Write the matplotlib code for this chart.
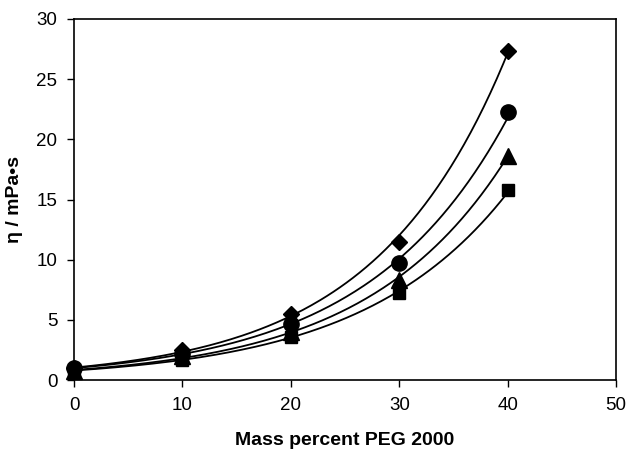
import numpy as np
import matplotlib
matplotlib.use("Agg")
import matplotlib.pyplot as plt

plt.rcParams['font.family'] = ['Liberation Sans', 'DejaVu Sans']

x = [0, 10, 20, 30, 40]
diamond = [1.0, 2.5, 5.5, 11.5, 27.3]
circle = [1.0, 2.2, 4.7, 9.7, 22.3]
triangle = [0.8, 2.0, 4.0, 8.3, 18.6]
square = [0.8, 1.7, 3.6, 7.2, 15.8]

series = [(diamond, 'D', 8.5), (circle, 'o', 11), (triangle, '^', 11), (square, 's', 8.5)]

fig = plt.figure(figsize=(6.28, 4.51), dpi=100)
ax = fig.add_axes([0.118, 0.157, 0.863, 0.801])

xs = np.linspace(0, 40, 200)
xa = np.array(x, dtype=float)
for vals, m, ms in series:
    b, lna = np.polyfit(xa, np.log(vals), 1)
    ax.plot(xs, np.exp(lna) * np.exp(b * xs), color='black', lw=1.3, zorder=2)
    ax.plot(x, vals, linestyle='none', marker=m, markersize=ms, color='black', zorder=3, clip_on=False)

ax.set_xlim(0, 50)
ax.set_ylim(0, 30)
ax.set_xticks([0, 10, 20, 30, 40, 50])
ax.set_yticks([0, 5, 10, 15, 20, 25, 30])
ax.tick_params(direction='out', length=5, width=1, labelsize=13.5, pad=7)
for s in ax.spines.values():
    s.set_linewidth(1.2)
ax.set_xlabel('Mass percent PEG 2000', fontsize=14, fontweight='bold', labelpad=13)
ax.set_ylabel('η / mPa•s', fontsize=14, fontweight='bold', labelpad=10)

fig.savefig('out.png', dpi=100)
